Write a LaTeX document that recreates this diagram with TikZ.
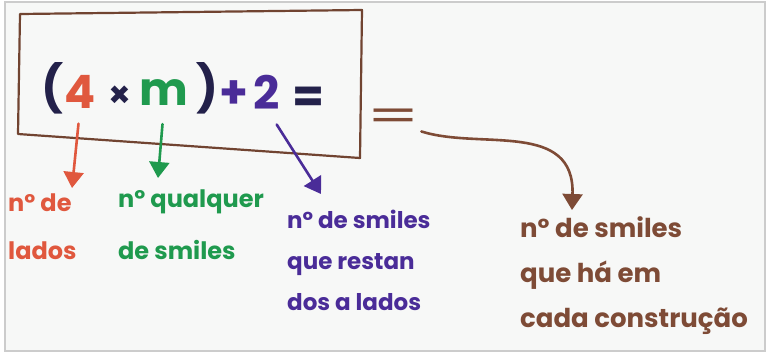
\documentclass[tikz,border=0pt]{standalone}
\usepackage{fontspec}
\setmainfont{Poppins}
\usepackage{tikz}
\usetikzlibrary{arrows.meta}
\definecolor{paper}{HTML}{F7F8F7}
\definecolor{ink}{HTML}{23214A}
\definecolor{redink}{HTML}{E0583E}
\definecolor{greenink}{HTML}{1F9A4E}
\definecolor{purpink}{HTML}{4A2C98}
\definecolor{brownink}{HTML}{7E4B36}
\tikzset{eqpart/.style={inner sep=0pt, font=\fontsize{46}{46}\selectfont\bfseries},
  handtxt/.style={inner sep=0pt, align=left, anchor=north west, font=\fontsize{24}{48}\selectfont\bfseries},
  hdarrow/.style={-{Triangle[width=20pt,length=16pt]}, line width=2.6pt, line cap=round}}

\begin{document}
\begin{tikzpicture}[x=1pt,y=-1pt]
\useasboundingbox (0,0) rectangle (766,354);
\draw[draw=black!20, fill=paper, line width=1.5pt] (5,2) rectangle (765,351);

% Box round the expression
\draw[brownink!90!black, line width=2.2pt, line join=round] (20,14) -- (362,10) -- (360,158) -- (18,134) -- cycle;

% Expression
\node[eqpart, text=ink] (lpar) at (52,88) {(};
\node[eqpart, text=redink] (four) at (80,92) {4};
\node[eqpart, text=ink, font=\fontsize{36}{36}\selectfont\bfseries] (times) at (120,97) {×};
\node[eqpart, text=greenink] (em) at (164,93) {m};
\node[eqpart, text=ink] (rpar) at (207,88) {)};
\node[eqpart, text=purpink] (plus) at (234,95) {+};
\node[eqpart, text=purpink] (two) at (267,92) {2};
\node[eqpart, text=ink] (equal) at (309,100) {=};

% Equals sign outside the box
\node[eqpart, text=brownink, font=\fontsize{44}{44}\selectfont, xscale=1.7] (eqout) at (394,120) {=};

% Labels
\node[handtxt, text=redink] (redlbl) at (8,194) {nº de\\lados};
\node[handtxt, text=greenink, font=\fontsize{24}{52}\selectfont\bfseries] (greenlbl) at (118,190) {nº qualquer\\de smiles};
\node[handtxt, text=purpink, font=\fontsize{23}{41}\selectfont\bfseries] (purplbl) at (287,210) {nº de smiles\\que restan\\dos a lados};
\node[handtxt, text=brownink, font=\fontsize{26}{45}\selectfont\bfseries] (brownlbl) at (520,216) {nº de smiles\\que há em\\cada construção};

% Arrows
\coordinate (redtip) at (72,188);
\coordinate (greentip) at (158,178);
\coordinate (purptip) at (321,194);
\coordinate (browntip) at (572,210);
\draw[hdarrow, redink, shorten <=15pt] (four.south) -- (redtip);
\draw[hdarrow, greenink, shorten <=18pt] (em.south) -- (greentip);
\draw[hdarrow, purpink, shorten <=18pt] (two.south) -- (purptip);
\draw[hdarrow, brownink] (eqout.south east) .. controls (480,150) and (575,120) .. (browntip);
\end{tikzpicture}
\end{document}
